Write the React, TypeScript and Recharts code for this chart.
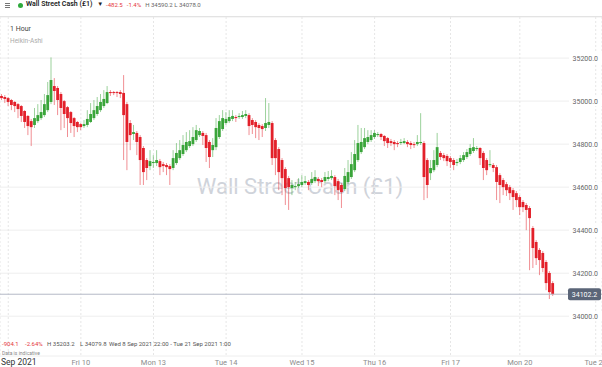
import React from "react";
import {
  ComposedChart,
  Bar,
  XAxis,
  YAxis,
  CartesianGrid,
  ReferenceLine,
} from "recharts";

// ─── Data (Heikin-Ashi, 1 hour) ────────────────────────────────────────────

const OPEN = [
  35024, 35019, 35014, 35005, 34996, 34986, 34977, 34954, 34931, 34907,
  34889, 34907, 34921, 34935, 34958, 34996, 35070, 35061, 35033, 35000,
  34972, 34949, 34921, 34903, 34893, 34884, 34889, 34903, 34921, 34940,
  34958, 34977, 34991, 35042, 35042, 35042, 35042, 35038, 34986, 34898,
  34847, 34852, 34833, 34782, 34726, 34698, 34712, 34712, 34721, 34707,
  34703, 34698, 34689, 34712, 34735, 34754, 34772, 34791, 34800, 34819,
  34842, 34852, 34842, 34810, 34772, 34786, 34833, 34870, 34898, 34907,
  34917, 34926, 34926, 34926, 34931, 34935, 34912, 34903, 34889, 34884,
  34875, 34889, 34898, 34819, 34777, 34726, 34684, 34642, 34596, 34600,
  34605, 34610, 34619, 34624, 34619, 34628, 34638, 34633, 34628, 34638,
  34642, 34647, 34628, 34610, 34591, 34624, 34647, 34679, 34726, 34763,
  34786, 34810, 34819, 34833, 34842, 34847, 34838, 34828, 34814, 34810,
  34805, 34805, 34805, 34810, 34805, 34800, 34800, 34805, 34805, 34726,
  34665, 34679, 34703, 34759, 34749, 34745, 34735, 34726, 34712, 34717,
  34726, 34740, 34754, 34768, 34777, 34782, 34759, 34726, 34703, 34703,
  34693, 34656, 34633, 34614, 34600, 34586, 34572, 34554, 34531, 34517,
  34503, 34410, 34345, 34308, 34294, 34252, 34201, 34154,
];

const CLOSE = [
  35014, 35010, 34996, 34982, 34977, 34963, 34931, 34903, 34884, 34879,
  34921, 34935, 34949, 34986, 35028, 35098, 35047, 35005, 34968, 34940,
  34921, 34898, 34884, 34879, 34879, 34893, 34917, 34940, 34958, 34977,
  34996, 35010, 35042, 35038, 35038, 35038, 35033, 34935, 34810, 34842,
  34856, 34810, 34726, 34670, 34689, 34721, 34717, 34726, 34693, 34698,
  34693, 34684, 34735, 34759, 34772, 34796, 34810, 34814, 34833, 34865,
  34861, 34838, 34782, 34740, 34796, 34875, 34907, 34921, 34917, 34926,
  34931, 34921, 34931, 34935, 34940, 34884, 34889, 34879, 34875, 34870,
  34898, 34903, 34735, 34735, 34670, 34642, 34596, 34600, 34610, 34605,
  34614, 34624, 34628, 34610, 34638, 34647, 34628, 34624, 34647, 34647,
  34652, 34605, 34586, 34577, 34652, 34670, 34707, 34754, 34805, 34810,
  34828, 34833, 34842, 34852, 34847, 34833, 34814, 34805, 34805, 34800,
  34800, 34810, 34814, 34800, 34796, 34796, 34810, 34810, 34647, 34610,
  34689, 34726, 34786, 34740, 34735, 34721, 34717, 34703, 34717, 34735,
  34749, 34763, 34782, 34786, 34782, 34735, 34689, 34679, 34707, 34689,
  34624, 34610, 34600, 34586, 34572, 34554, 34540, 34507, 34507, 34494,
  34456, 34317, 34270, 34261, 34224, 34154, 34112, 34102.2,
];

const HIGH = [
  35033, 35028, 35019, 35010, 35000, 34991, 34982, 34958, 34935, 34917,
  34968, 34986, 35005, 35033, 35089, 35203.2, 35107, 35070, 35042, 35005,
  34977, 34954, 34926, 34907, 34898, 34912, 34958, 34991, 35005, 35019,
  35033, 35051, 35070, 35051, 35047, 35047, 35051, 35121, 34996, 34912,
  34889, 34861, 34842, 34791, 34735, 34772, 34749, 34772, 34731, 34717,
  34712, 34707, 34772, 34805, 34819, 34842, 34856, 34865, 34879, 34889,
  34875, 34861, 34852, 34819, 34828, 34921, 34935, 34958, 34949, 34958,
  34958, 34935, 34944, 34954, 34958, 34944, 34921, 34912, 34898, 34893,
  35014, 34991, 34907, 34828, 34786, 34735, 34693, 34652, 34633, 34624,
  34642, 34656, 34652, 34633, 34670, 34679, 34647, 34642, 34670, 34675,
  34679, 34656, 34638, 34619, 34689, 34726, 34763, 34819, 34889, 34875,
  34875, 34865, 34865, 34865, 34856, 34852, 34842, 34833, 34824, 34819,
  34814, 34824, 34828, 34819, 34814, 34810, 34842, 34944, 34814, 34735,
  34726, 34772, 34852, 34768, 34759, 34754, 34745, 34735, 34731, 34749,
  34763, 34777, 34800, 34828, 34791, 34786, 34768, 34735, 34772, 34712,
  34703, 34665, 34642, 34624, 34610, 34596, 34582, 34563, 34540, 34526,
  34512, 34419, 34354, 34317, 34303, 34261, 34210, 34163,
];

const LOW = [
  35005, 34991, 34977, 34958, 34949, 34921, 34903, 34875, 34842, 34791,
  34875, 34898, 34912, 34926, 34949, 34986, 34982, 34935, 34865, 34875,
  34833, 34852, 34833, 34856, 34865, 34875, 34879, 34898, 34912, 34931,
  34949, 34968, 34986, 35024, 35028, 35019, 35014, 34726, 34679, 34772,
  34819, 34749, 34610, 34610, 34633, 34679, 34689, 34698, 34656, 34670,
  34656, 34610, 34679, 34703, 34726, 34745, 34763, 34782, 34791, 34810,
  34833, 34796, 34717, 34689, 34740, 34772, 34824, 34861, 34889, 34898,
  34907, 34903, 34917, 34917, 34921, 34842, 34847, 34828, 34819, 34833,
  34861, 34875, 34703, 34656, 34586, 34563, 34517, 34494, 34563, 34586,
  34596, 34600, 34610, 34586, 34610, 34619, 34605, 34600, 34619, 34628,
  34633, 34563, 34540, 34503, 34582, 34614, 34638, 34670, 34717, 34754,
  34777, 34800, 34810, 34824, 34833, 34819, 34791, 34782, 34791, 34772,
  34786, 34796, 34800, 34786, 34777, 34782, 34791, 34796, 34540, 34549,
  34633, 34670, 34693, 34726, 34721, 34698, 34689, 34679, 34698, 34707,
  34717, 34731, 34745, 34759, 34768, 34703, 34633, 34656, 34693, 34670,
  34540, 34526, 34563, 34559, 34540, 34494, 34507, 34470, 34484, 34400,
  34214, 34224, 34238, 34191, 34205, 34121, 34079.8, 34094,
];

const DAY_TICKS = [2, 24, 46, 68, 91, 113, 136, 157, 180];
const DAY_LABELS = ["Sep 2021", "Fri 10", "Mon 13", "Tue 14", "Wed 15", "Thu 16", "Fri 17", "Mon 20", "Tue 21"];
const PRICE_TICKS = [34000, 34200, 34400, 34600, 34800, 35000, 35200];
const LAST_PRICE = 34102.2;

const data = OPEN.map((o, i) => ({
  i,
  open: o,
  close: CLOSE[i],
  high: HIGH[i],
  low: LOW[i],
}));

const GREEN = "#3aa53a";
const RED = "#e3202a";
const FONT = "Roboto, 'Open Sans', Arial, sans-serif";

// ─── Shapes ────────────────────────────────────────────────────────────────

function Candle(props: any) {
  const { x, width, payload } = props;
  let { y, height } = props;
  if (height < 0) {
    y += height;
    height = -height;
  }
  const { open, close, high, low } = payload;
  const color = close >= open ? GREEN : RED;
  const k = height / (high - low || 1);
  const top = y + (high - Math.max(open, close)) * k;
  const bh = Math.max(1, Math.abs(close - open) * k);
  const cx = x + width / 2;
  return (
    <g>
      <line x1={cx} x2={cx} y1={y} y2={y + height} stroke={color} strokeOpacity={0.5} strokeWidth={1} />
      <rect x={x + 0.1} y={top} width={width - 0.2} height={bh} fill={color} />
    </g>
  );
}

function DayTick({ x, payload }: any) {
  const k = DAY_TICKS.indexOf(payload.value);
  const first = k === 0;
  return (
    <text
      x={first ? 1 : x}
      y={365}
      textAnchor={first ? "start" : "middle"}
      fontSize={first ? 8.5 : 7.5}
      fill={first ? "#333" : "#8c8c8c"}
      fontFamily={FONT}
    >
      {DAY_LABELS[k]}
    </text>
  );
}

function PriceTick({ y, payload }: any) {
  return (
    <g>
      <rect x={569} y={y - 5} width={33} height={10} fill="#fff" />
      <text x={598} y={y} dy={2.5} textAnchor="end" fontSize={7} fill="#666" fontFamily={FONT}>
        {payload.value.toFixed(1)}
      </text>
    </g>
  );
}

function PriceTag({ viewBox }: any) {
  const y = viewBox.y;
  return (
    <g>
      <rect x={568} y={y - 6} width={33} height={12} rx={2} fill="#5b6578" />
      <text x={584.5} y={y} dy={2.5} textAnchor="middle" fontSize={7} fill="#fff" fontFamily={FONT}>
        {LAST_PRICE.toFixed(1)}
      </text>
    </g>
  );
}

// ─── Component ─────────────────────────────────────────────────────────────

export default function App() {
  const small = { fontSize: 7, fontFamily: FONT, position: "absolute" as const, whiteSpace: "nowrap" as const };
  return (
    <div
      style={{
        position: "absolute",
        left: 0,
        top: 0,
        width: 602,
        height: 367,
        background: "#fff",
        overflow: "hidden",
        fontFamily: FONT,
      }}
    >
      {/* watermark */}
      <div
        style={{
          position: "absolute",
          left: 0,
          width: 600,
          top: 174,
          textAlign: "center",
          fontSize: 22,
          color: "#cfd3da",
          fontFamily: FONT,
        }}
      >
        Wall Street Cash (£1)
      </div>

      <div style={{ position: "absolute", left: 0, top: 0 }}>
        <ComposedChart width={602} height={367} data={data} margin={{ top: 17, right: 0, bottom: 0, left: 0 }}>
          <CartesianGrid horizontal vertical={false} stroke="#eeeeee" />
          <CartesianGrid horizontal={false} vertical stroke="#e6e6e6" strokeDasharray="2 2" />
          <XAxis
            type="number"
            dataKey="i"
            domain={[-0.5, 181.9]}
            allowDataOverflow
            ticks={DAY_TICKS}
            interval={0}
            axisLine={false}
            tickLine={false}
            height={11}
            tick={<DayTick />}
          />
          <YAxis
            orientation="right"
            mirror
            domain={[33815, 35391]}
            allowDataOverflow
            ticks={PRICE_TICKS}
            axisLine={false}
            tickLine={false}
            tick={<PriceTick />}
          />
          <Bar
            dataKey={(d: any) => [d.low, d.high]}
            barSize={3}
            shape={<Candle />}
            isAnimationActive={false}
          />
          <ReferenceLine y={LAST_PRICE} stroke="#b4b9c6" strokeWidth={1} label={<PriceTag />} />
        </ComposedChart>
      </div>

      {/* header */}
      <div style={{ position: "absolute", left: 0, top: 16, width: 602, height: 1, background: "#e3e3e3" }} />
      <div style={{ position: "absolute", left: 5, top: 2.5, width: 5, height: 1, background: "#777" }} />
      <div style={{ position: "absolute", left: 5, top: 4.5, width: 5, height: 1, background: "#777" }} />
      <div style={{ position: "absolute", left: 5, top: 6.5, width: 5, height: 1, background: "#777" }} />
      <div style={{ position: "absolute", left: 18, top: 3, width: 5, height: 5, borderRadius: 3, background: "#2eaa3c" }} />
      <div style={{ ...small, left: 26, top: 0, fontSize: 7, fontWeight: 600, color: "#222" }}>
        Wall Street Cash (£1) <span style={{ fontSize: 6, marginLeft: 3 }}>▼</span>
      </div>
      <div style={{ ...small, left: 106, top: 0.8, fontSize: 6, display: "flex", gap: 4 }}>
        <span style={{ color: "#e5383b" }}>-482.5</span>
        <span style={{ color: "#e5383b" }}>-1.4%</span>
        <span style={{ color: "#666" }}>H 34590.2 L 34078.0</span>
      </div>

      <div style={{ ...small, left: 10, top: 25, fontSize: 7, color: "#444" }}>1 Hour</div>
      <div style={{ ...small, left: 10, top: 37, fontSize: 6.5, color: "#aaa" }}>Heikin-Ashi</div>

      {/* bottom info */}
      <div style={{ ...small, left: 2, top: 339.5, fontSize: 6, color: "#e5383b" }}>-904.1</div>
      <div style={{ ...small, left: 25, top: 339.5, fontSize: 6, color: "#e5383b" }}>-2.64%</div>
      <div style={{ ...small, left: 47, top: 339.5, fontSize: 6, color: "#555" }}>H 35203.2</div>
      <div style={{ ...small, left: 80, top: 339.5, fontSize: 6, color: "#555" }}>L 34079.8</div>
      <div style={{ ...small, left: 109, top: 339.5, fontSize: 6, color: "#555" }}>
        Wed 8 Sep 2021 22:00 - Tue 21 Sep 2021 1:00
      </div>
      <div style={{ ...small, left: 2, top: 349.5, fontSize: 5, color: "#888" }}>Data is indicative</div>
    </div>
  );
}
